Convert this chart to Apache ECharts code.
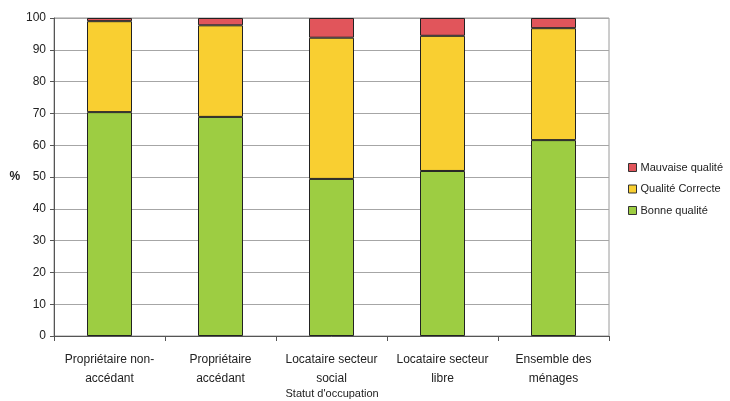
<!DOCTYPE html>
<html>
<head>
<meta charset="utf-8">
<script src="https://cdn.jsdelivr.net/npm/echarts@6/dist/echarts.min.js"></script>
<style>
  html, body { margin: 0; padding: 0; background: #fff; }
  #chart { width: 730px; height: 401px; }
</style>
</head>
<body>
<div id="chart"></div>
<script>
// Housing quality by occupancy status (percent of households)
const categories = [
  'Propriétaire non-\naccédant',
  'Propriétaire\naccédant',
  'Locataire secteur\nsocial',
  'Locataire secteur\nlibre',
  'Ensemble des\nménages'
];
const bonneQualite = [70.4, 68.9, 49.4, 51.9, 61.6];
const qualiteCorrecte = [28.6, 28.8, 44.4, 42.5, 35.2];
const mauvaiseQualite = [1.0, 2.3, 6.2, 5.6, 3.2];
const yTicks = [0, 10, 20, 30, 40, 50, 60, 70, 80, 90, 100];
const xAxisTitle = "Statut d'occupation";

const FONT = '"Liberation Sans", Arial, sans-serif';
const colors = { bonne: '#9dcd42', correcte: '#f9cf31', mauvaise: '#e1555b' };

function bar(name, data, color) {
  return {
    name: name,
    type: 'bar',
    stack: 'total',
    data: data,
    barWidth: 45,
    itemStyle: { color: color, borderColor: '#222', borderWidth: 1 },
    emphasis: { disabled: true }
  };
}

const chart = echarts.init(document.getElementById('chart'), null, { renderer: 'canvas' });
chart.setOption({
  animation: false,
  textStyle: { fontFamily: FONT },
  grid: {
    left: 54, right: 121, top: 18, bottom: 65,
    show: true, borderColor: '#9a9a9a', borderWidth: 1,
    containLabel: false, outerBoundsMode: 'none'
  },
  legend: {
    orient: 'vertical',
    left: 623, top: 157,
    itemWidth: 8, itemHeight: 8, itemGap: 10.5,
    icon: 'rect',
    textStyle: { fontFamily: FONT, fontSize: 11, color: '#222', padding: [0, 0, 0, -1] },
    data: [
      { name: 'Mauvaise qualité', itemStyle: { color: colors.mauvaise, borderColor: '#333', borderWidth: 1 } },
      { name: 'Qualité Correcte', itemStyle: { color: colors.correcte, borderColor: '#333', borderWidth: 1 } },
      { name: 'Bonne qualité', itemStyle: { color: colors.bonne, borderColor: '#333', borderWidth: 1 } }
    ]
  },
  // x-axis title, centred under the plot area
  graphic: [{
    type: 'text',
    left: 54 + 555 / 2 - 46,
    top: 388,
    style: { text: xAxisTitle, font: '11px ' + FONT, fill: '#222' }
  }],
  xAxis: {
    type: 'category',
    data: categories,
    axisLine: { lineStyle: { color: '#555', width: 1 } },
    axisTick: { show: true, alignWithLabel: false, length: 5, lineStyle: { color: '#555' } },
    axisLabel: { fontFamily: FONT, fontSize: 12, color: '#222', margin: 14, lineHeight: 19, interval: 0 }
  },
  yAxis: {
    type: 'value',
    min: yTicks[0],
    max: yTicks[yTicks.length - 1],
    interval: 10,
    name: '%',
    nameLocation: 'middle',
    nameRotate: 0,
    nameGap: 33,
    nameTextStyle: { fontFamily: FONT, fontSize: 12, fontWeight: 'bold', color: '#222' },
    axisLine: { show: true, lineStyle: { color: '#555', width: 1 } },
    axisTick: { show: true, length: 4, lineStyle: { color: '#555' } },
    axisLabel: { fontFamily: FONT, fontSize: 12, color: '#222', margin: 8 },
    splitLine: { show: true, lineStyle: { color: '#a6a6a6', width: 1 } }
  },
  series: [
    bar('Bonne qualité', bonneQualite, colors.bonne),
    bar('Qualité Correcte', qualiteCorrecte, colors.correcte),
    bar('Mauvaise qualité', mauvaiseQualite, colors.mauvaise)
  ]
});
</script>
</body>
</html>
